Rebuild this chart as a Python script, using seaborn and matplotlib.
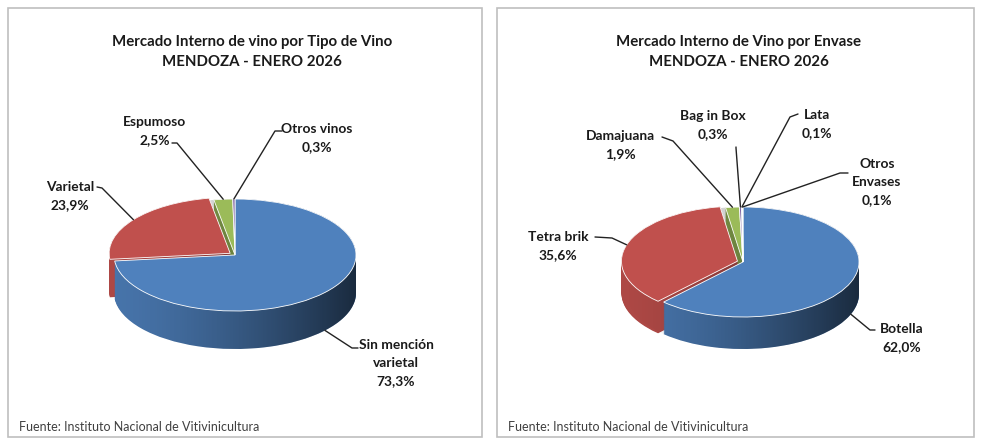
import numpy as np
import matplotlib
matplotlib.use("Agg")
import matplotlib.pyplot as plt
import matplotlib.colors as mcolors
from matplotlib.patches import PathPatch, Rectangle
from matplotlib.path import Path
from matplotlib.lines import Line2D
import seaborn as sns

# ---- data ----
tipo_names = ["Sin mención\nvarietal", "Varietal", "Espumoso", "Otros vinos"]
tipo_values = [73.3, 23.9, 2.5, 0.3]

envase_names = ["Botella", "Tetra brik", "Damajuana", "Bag in Box", "Lata", "Otros\nEnvases"]
envase_values = [62.0, 35.6, 1.9, 0.3, 0.1, 0.1]

titles = ["Mercado Interno de vino por Tipo de Vino\nMENDOZA - ENERO 2026",
          "Mercado Interno de Vino por Envase\nMENDOZA - ENERO 2026"]
fuente = "Fuente: Instituto Nacional de Vitivinicultura"

# ---- style ----
sns.set_theme(style="white")
plt.rcParams["font.family"] = ["Lato", "DejaVu Sans"]
office = sns.color_palette(["#4F81BD", "#C0504D", "#9BBB59", "#8064A2", "#4BACC6", "#F79646"])

FW, FH = 981, 442
fig = plt.figure(figsize=(FW / 100, FH / 100), dpi=100)
fig.patch.set_facecolor("white")


def fx(x, y):
    # image pixels -> figure fraction
    return x / FW, 1 - y / FH


def pct(v):
    return f"{v:.1f}".replace(".", ",") + "%"


def pie3d(cx, cy, rx, ry, depth, values, explode):
    W, H = 170, 120
    ax = fig.add_axes([(cx - W) / FW, 1 - (cy + H) / FH, 2 * W / FW, 2 * H / FH])
    d = depth / ry
    cols = office[:len(values)]
    wall = [tuple(np.array(mcolors.to_rgb(c)) * 0.9) for c in cols]
    n = 45
    for k in range(n + 1):
        ax.pie(values, colors=wall, startangle=90, counterclock=False, explode=explode,
               center=(0, -d * (1 - k / n)), wedgeprops=dict(linewidth=0))
    # side shading, dark towards the right
    t = np.linspace(0, np.pi, 100)
    tb = np.linspace(np.pi, 2 * np.pi, 100)
    xs = np.concatenate([np.cos(t), np.cos(tb)])
    ys = np.concatenate([np.sin(t), np.sin(tb) - d])
    clip = PathPatch(Path(np.column_stack([xs, ys]), closed=False), transform=ax.transData,
                     facecolor="none", edgecolor="none")
    ax.add_patch(clip)
    g = np.linspace(0, 1, 256)
    rgba = np.zeros((2, 256, 4))
    rgba[..., 3] = 0.0 + 0.66 * g ** 1.5
    im = ax.imshow(rgba, extent=(-1.05, 1.05, -d - 1.05, 1.05), aspect="auto", zorder=2)
    im.set_clip_path(clip)
    wedges, _ = ax.pie(values, colors=cols, startangle=90, counterclock=False, explode=explode,
                       wedgeprops=dict(linewidth=0.6, edgecolor="white"))
    for w in wedges:
        w.set_zorder(3)
    ax.set_aspect("auto")
    ax.set_xlim(-W / rx, W / rx)
    ax.set_ylim(-H / ry, H / ry)
    ax.axis("off")
    # edge points for leader lines
    ends = []
    for w in wedges:
        a = np.deg2rad((w.theta1 + w.theta2) / 2)
        x0, y0 = w.center
        x, y = x0 + np.cos(a), y0 + np.sin(a)
        if np.sin(a) < -0.2:
            y -= d
        ends.append(ax.transData.transform((x, y)))
    return ax, ends


def leaders(ends, names, values, text_pos, stubs):
    for (ex, ey), name, v, (tx, ty), (s1, s2) in zip(ends, names, values, text_pos, stubs):
        fig.text(*fx(tx, ty), f"{name}\n{pct(v)}", ha="center", va="center",
                 fontsize=9.9, fontweight="bold", color="#1a1a1a", linespacing=1.6)
        ex_f, ey_f = fig.transFigure.inverted().transform((ex, ey))
        p1, p2 = fx(*s1), fx(*s2)
        fig.add_artist(Line2D([p1[0], p2[0], ex_f], [p1[1], p2[1], ey_f],
                              transform=fig.transFigure, color="#222222", lw=1.0))


# panel frames, titles and source
for x0, x1 in [(8, 482), (497, 974)]:
    fig.add_artist(Rectangle(fx(x0, 437), (x1 - x0) / FW, (437 - 8) / FH,
                             transform=fig.transFigure, facecolor="white",
                             edgecolor="#bfbfbf", lw=1.2, zorder=0))
for (tcx, sx), title in zip([(252, 19), (739, 508)], titles):
    fig.text(*fx(tcx, 52), title, ha="center", va="center", fontsize=10.8,
             fontweight="bold", color="#1a1a1a", linespacing=1.5)
    fig.text(*fx(sx, 427), fuente, ha="left", va="center", fontsize=9, color="#404040")

# left pie
ax1, ends1 = pie3d(235, 255, 121, 56, 38, tipo_values, [0, 0.05, 0, 0])
leaders(ends1, tipo_names, tipo_values,
        [(396, 363), (70, 196), (155, 131), (317, 138)],
        [((358, 348), (352, 348)), ((97, 187), (102, 188)),
         ((172, 143), (177, 143)), ((282, 131), (275, 131))])

# right pie
ax2, ends2 = pie3d(743, 262, 116, 55, 32, envase_values, [0, 0.05, 0, 0, 0, 0])
leaders(ends2, envase_names, envase_values,
        [(902, 338), (558, 246), (620, 145), (713, 125), (817, 124), (877, 182)],
        [((875, 330), (870, 330)), ((595, 237), (612, 238)),
         ((662, 137), (673, 141)), ((736, 147), (736, 148)),
         ((798, 114), (790, 117)), ((848, 173), (840, 173))])

fig.savefig("out.png", dpi=100)
